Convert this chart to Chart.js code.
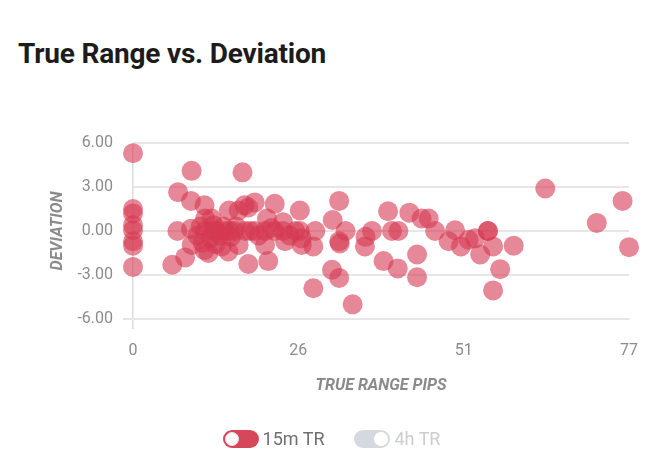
<!DOCTYPE html>
<html>
<head>
<meta charset="utf-8">
<script src="https://cdn.jsdelivr.net/npm/chart.js@4/dist/chart.umd.min.js"></script>
<style>
  html, body { margin: 0; padding: 0; background: #ffffff; }
  body { width: 663px; height: 458px; position: relative; overflow: hidden; font-family: Roboto, "Noto Sans", sans-serif; }
  #title { position: absolute; left: 18px; top: 40px; margin: 0; font: 700 28px/28px Roboto, sans-serif; color: #1c1c1c; letter-spacing: -0.2px; white-space: nowrap; }
  #wrap { position: absolute; left: 0; top: 0; width: 663px; height: 458px; }
  #legend { position: absolute; left: 0; top: 430px; width: 663px; height: 18px; display: flex; justify-content: center; align-items: center; gap: 30px; }
  .item { display: flex; align-items: center; font: 400 18px/18px Roboto, sans-serif; }
  .track { position: relative; width: 36px; height: 18px; border-radius: 9px; margin-right: 4px; box-sizing: border-box; }
  .knob { position: absolute; top: 2px; width: 14px; height: 14px; border-radius: 50%; background: #fff; box-sizing: border-box; }
  .on .track { background: #d6475c; }
  .on .knob { left: 2px; border: 1.5px solid #e6e6e6; }
  .on .label { color: #6f6f6f; }
  .off .track { background: #d5d9df; }
  .off .knob { right: 2px; }
  .off .label { color: #cdcdcd; }
</style>
</head>
<body>
<h1 id="title">True Range vs. Deviation</h1>
<div id="wrap"><canvas id="c" width="663" height="458"></canvas></div>
<div id="legend"></div>
<script>
// ---- data ----
const seriesNames = ['15m TR', '4h TR'];
const trPips = [
  0, 0, 0, 0, 0, 0, 0, 0,
  9.1, 7.0, 9.0, 11.1, 6.9, 9.0, 11.2, 9.1, 8.1, 6.1, 11.1,
  17.0, 14.9, 17.3, 18.9, 22.0, 17.9, 16.4, 20.8, 23.3, 12.2,
  11.2, 12.7, 14.3, 15.8, 17.4, 18.9, 20.5, 22.0, 23.3, 25.2,
  13.8, 14.8, 11.7, 16.4, 20.5, 23.6, 26.2, 17.9, 21.0,
  10.5, 10.0, 12.0, 12.5, 13.0, 13.5, 10.8, 12.8, 14.0, 15.2, 16.0, 19.5, 21.5, 24.3, 15.0, 18.2,
  25.9, 32.0, 31.0, 33.0, 25.9, 28.3, 26.2, 28.0, 32.0, 32.1, 36.0, 36.1, 37.1, 39.6, 38.9, 40.2,
  30.9, 32.0, 28.0, 34.1,
  42.9, 44.8, 45.9, 46.9, 50.0, 49.0, 50.9, 52.1, 53.9, 41.2, 41.1, 44.1, 44.1,
  64.0, 55.1, 55.1, 53.1, 55.9, 59.1, 57.0, 55.9,
  76.0, 72.0, 77.0
];
const deviation = [
  5.3, 1.5, 1.2, 0.4, 0.05, -0.7, -1.0, -2.45,
  4.1, 2.65, 2.05, 1.75, 0, 0.15, 0.85, -0.95, -1.8, -2.3, -1.3,
  4.0, 1.4, 1.75, 1.95, 1.85, 1.6, 1.4, 0.85, 0.6, 0.85,
  0, 0, 0, 0, 0, 0, 0, 0, 0, 0,
  -1.05, -1.4, -1.5, -0.95, -0.95, -0.7, -0.95, -2.25, -2.05,
  0.3, -0.3, -0.5, 0.4, 0.0, -0.3, -0.8, -0.9, 0.3, -0.4, 0.3, -0.3, 0.2, -0.3, 0.0, 0.0,
  1.4, 2.05, 0.75, 0, 0, 0, -0.5, -1.05, -0.7, -0.85, -1.05, -0.4, 0, 1.35, -2.05, 0,
  -2.65, -3.2, -3.9, -5.0,
  1.25, 0.85, 0.85, 0, 0.05, -0.7, -1.05, -0.6, -1.6, 0, -2.55, -1.6, -3.15,
  2.9, 0, 0, -0.5, -1.05, -1.0, -2.6, -4.05,
  2.05, 0.55, -1.1
];
const trPips4h = [];
const deviation4h = [];
const xTickValues = [0, 25.667, 51.333, 77];
const xTickLabels = ['0', '26', '51', '77'];
const yTickValues = [-6, -3, 0, 3, 6];

// ---- build chart ----
const pts15 = trPips.map((x, i) => ({ x: x, y: deviation[i] }));
const pts4h = trPips4h.map((x, i) => ({ x: x, y: deviation4h[i] }));

const RED = 'rgba(214, 56, 82, 0.6)';
const GRID = '#e6e6e6';
const TICK = '#8c8c8c';

new Chart(document.getElementById('c'), {
  type: 'scatter',
  data: {
    datasets: [
      { label: seriesNames[0], data: pts15, backgroundColor: RED, borderWidth: 0, pointRadius: 10, pointHoverRadius: 10, clip: false },
      { label: seriesNames[1], data: pts4h, backgroundColor: '#8fa3b8', borderWidth: 0, pointRadius: 10, hidden: true, clip: false }
    ]
  },
  options: {
    responsive: false,
    animation: false,
    events: [],
    layout: { padding: { top: 143, right: 34, bottom: 50, left: 0 } },
    plugins: { legend: { display: false }, tooltip: { enabled: false }, title: { display: false } },
    scales: {
      x: {
        type: 'linear',
        min: 0, max: 77,
        afterFit: s => { s.height = 89; },
        afterBuildTicks: s => { s.ticks = xTickValues.map(v => ({ value: v })); },
        ticks: {
          color: TICK, padding: 12, maxRotation: 0, autoSkip: false,
          font: { family: 'Roboto', size: 16 },
          callback: (v, i) => xTickLabels[i]
        },
        grid: {
          drawOnChartArea: true, drawTicks: true, tickLength: 10,
          color: c => (c.tick && c.tick.value === 0 ? '#dcdcdc' : 'rgba(0,0,0,0)'),
          lineWidth: 1.5
        },
        border: { display: true, color: GRID, width: 2 },
        title: {
          display: true, text: 'TRUE RANGE PIPS', color: '#8a8a8a',
          font: { family: 'Roboto', size: 16, weight: 'bold', style: 'italic' },
          padding: { top: 0, bottom: 12 }
        }
      },
      y: {
        type: 'linear',
        min: -6, max: 6,
        afterFit: s => { s.width = 133; },
        afterBuildTicks: s => { s.ticks = yTickValues.map(v => ({ value: v })); },
        ticks: {
          color: TICK, padding: 10,
          font: { family: 'Roboto', size: 16 },
          callback: v => v.toFixed(2)
        },
        grid: {
          color: GRID, lineWidth: 2, drawTicks: true, tickLength: 10,
          tickColor: c => (c.tick && c.tick.value === -6 ? GRID : 'rgba(0,0,0,0)')
        },
        border: { display: false },
        title: {
          display: true, text: 'DEVIATION', color: '#8a8a8a',
          font: { family: 'Roboto', size: 16, weight: 'bold', style: 'italic' },
          padding: { top: 48, bottom: 0 }
        }
      }
    }
  }
});

// ---- HTML legend (toggle switches) ----
const legend = document.getElementById('legend');
seriesNames.forEach((name, i) => {
  const item = document.createElement('div');
  item.className = 'item ' + (i === 0 ? 'on' : 'off');
  const track = document.createElement('div');
  track.className = 'track';
  const knob = document.createElement('div');
  knob.className = 'knob';
  track.appendChild(knob);
  const label = document.createElement('span');
  label.className = 'label';
  label.textContent = name;
  item.appendChild(track);
  item.appendChild(label);
  legend.appendChild(item);
});
</script>
</body>
</html>
